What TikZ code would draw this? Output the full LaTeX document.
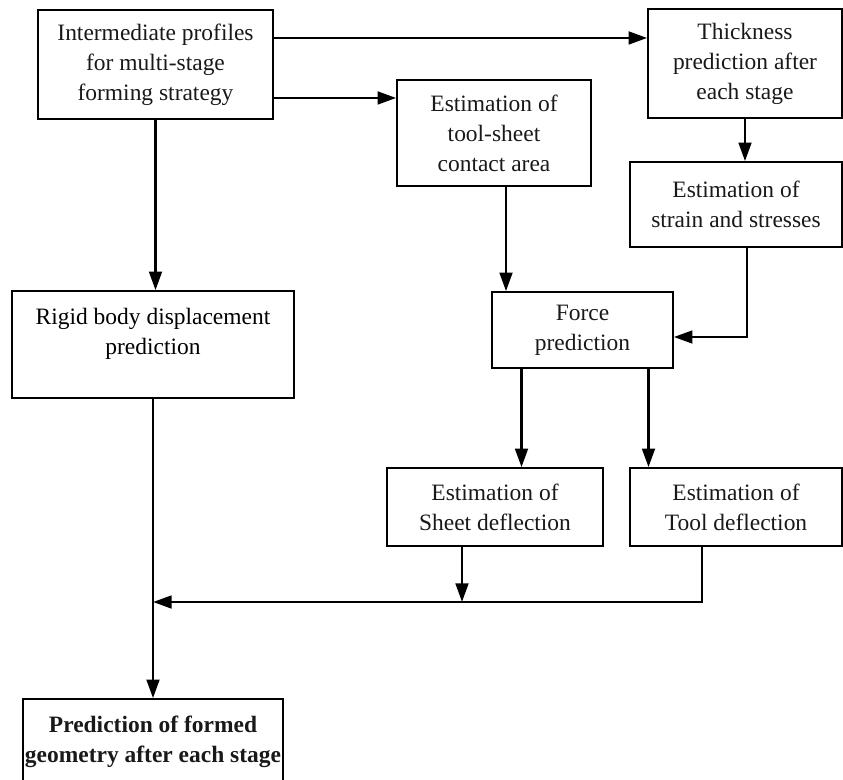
\documentclass[tikz,border=0pt]{standalone}
\usepackage{fontspec}
\setmainfont{Liberation Serif}
\usetikzlibrary{arrows.meta,calc}
\tikzset{
  box/.style={draw, line width=1.2pt, inner sep=0pt, align=center, text=black!90},
  arr/.style={line width=2.1pt, -{Triangle[length=14pt,width=9.5pt]}},
}
\begin{document}
\begin{tikzpicture}[x=0.75pt,y=-0.75pt,font=\fontsize{17.6}{22.5}\selectfont]
\useasboundingbox (0,0) rectangle (843,779);
\clip (0,0) rectangle (843,779);
\node[box, minimum width=176.25pt, minimum height=81.75pt] (A) at (155.5,64.5) {Intermediate profiles\\for multi-stage\\forming strategy};
\node[box, minimum width=145.5pt, minimum height=81.75pt] (T) at (745,63.5) {Thickness\\prediction after\\each stage};
\node[box, minimum width=145.5pt, minimum height=79.5pt] (C) at (494,133) {Estimation of\\tool-sheet\\contact area};
\node[box, minimum width=159pt, minimum height=63.75pt] (S) at (736,204.5) {Estimation of\\strain and stresses};
\node[box, minimum width=135.75pt, minimum height=57pt] (F) at (582.5,330) {Force\\prediction};
\node[box, minimum width=211.5pt, minimum height=80.25pt,
  label={[align=center, yshift=7.9pt]center:{Rigid body displacement\\prediction}}] (R) at (153,344.5) {};
\node[box, minimum width=162pt, minimum height=58.5pt] (SD) at (495,507) {Estimation of\\Sheet deflection};
\node[box, minimum width=159pt, minimum height=58.5pt] (TD) at (736,507) {Estimation of\\Tool deflection};
\node[box, minimum width=195pt, minimum height=64.5pt, font=\fontsize{17.6}{22.5}\selectfont\bfseries] (P) at (153,742) {Prediction of formed\\geometry after each stage};
\coordinate (m) at (153,602);
% connectors
\draw[arr] ([yshift=19.9pt]A.east) -- ([yshift=19.9pt]A.east -| T.west);
\draw[arr] ([yshift=-25.1pt]A.east) -- ([yshift=-25.1pt]A.east -| C.west);
\draw[arr] (A.south) -- (A.south |- R.north);
\draw[arr] (T.south) -- (T.south |- S.north);
\draw[arr] ([xshift=9pt]C.south) -- ([xshift=9pt]C.south |- F.north);
\draw[arr] ([xshift=8.25pt]S.south) |- ([yshift=-5.25pt]F.east);
\draw[arr] ([xshift=-45.75pt]F.south) -- ([xshift=-45.75pt]F.south |- SD.north);
\draw[arr] ([xshift=49.5pt]F.south) -- ([xshift=49.5pt]F.south |- TD.north);
\coordinate (j) at ([xshift=-24.75pt]SD.south |- m);
\draw[arr] ([xshift=-24.75pt]SD.south) -- (j);
\draw[arr] ([xshift=-25.5pt]TD.south) |- (m);
\draw[arr] (R.south) -- (P.north);
\end{tikzpicture}
\end{document}
